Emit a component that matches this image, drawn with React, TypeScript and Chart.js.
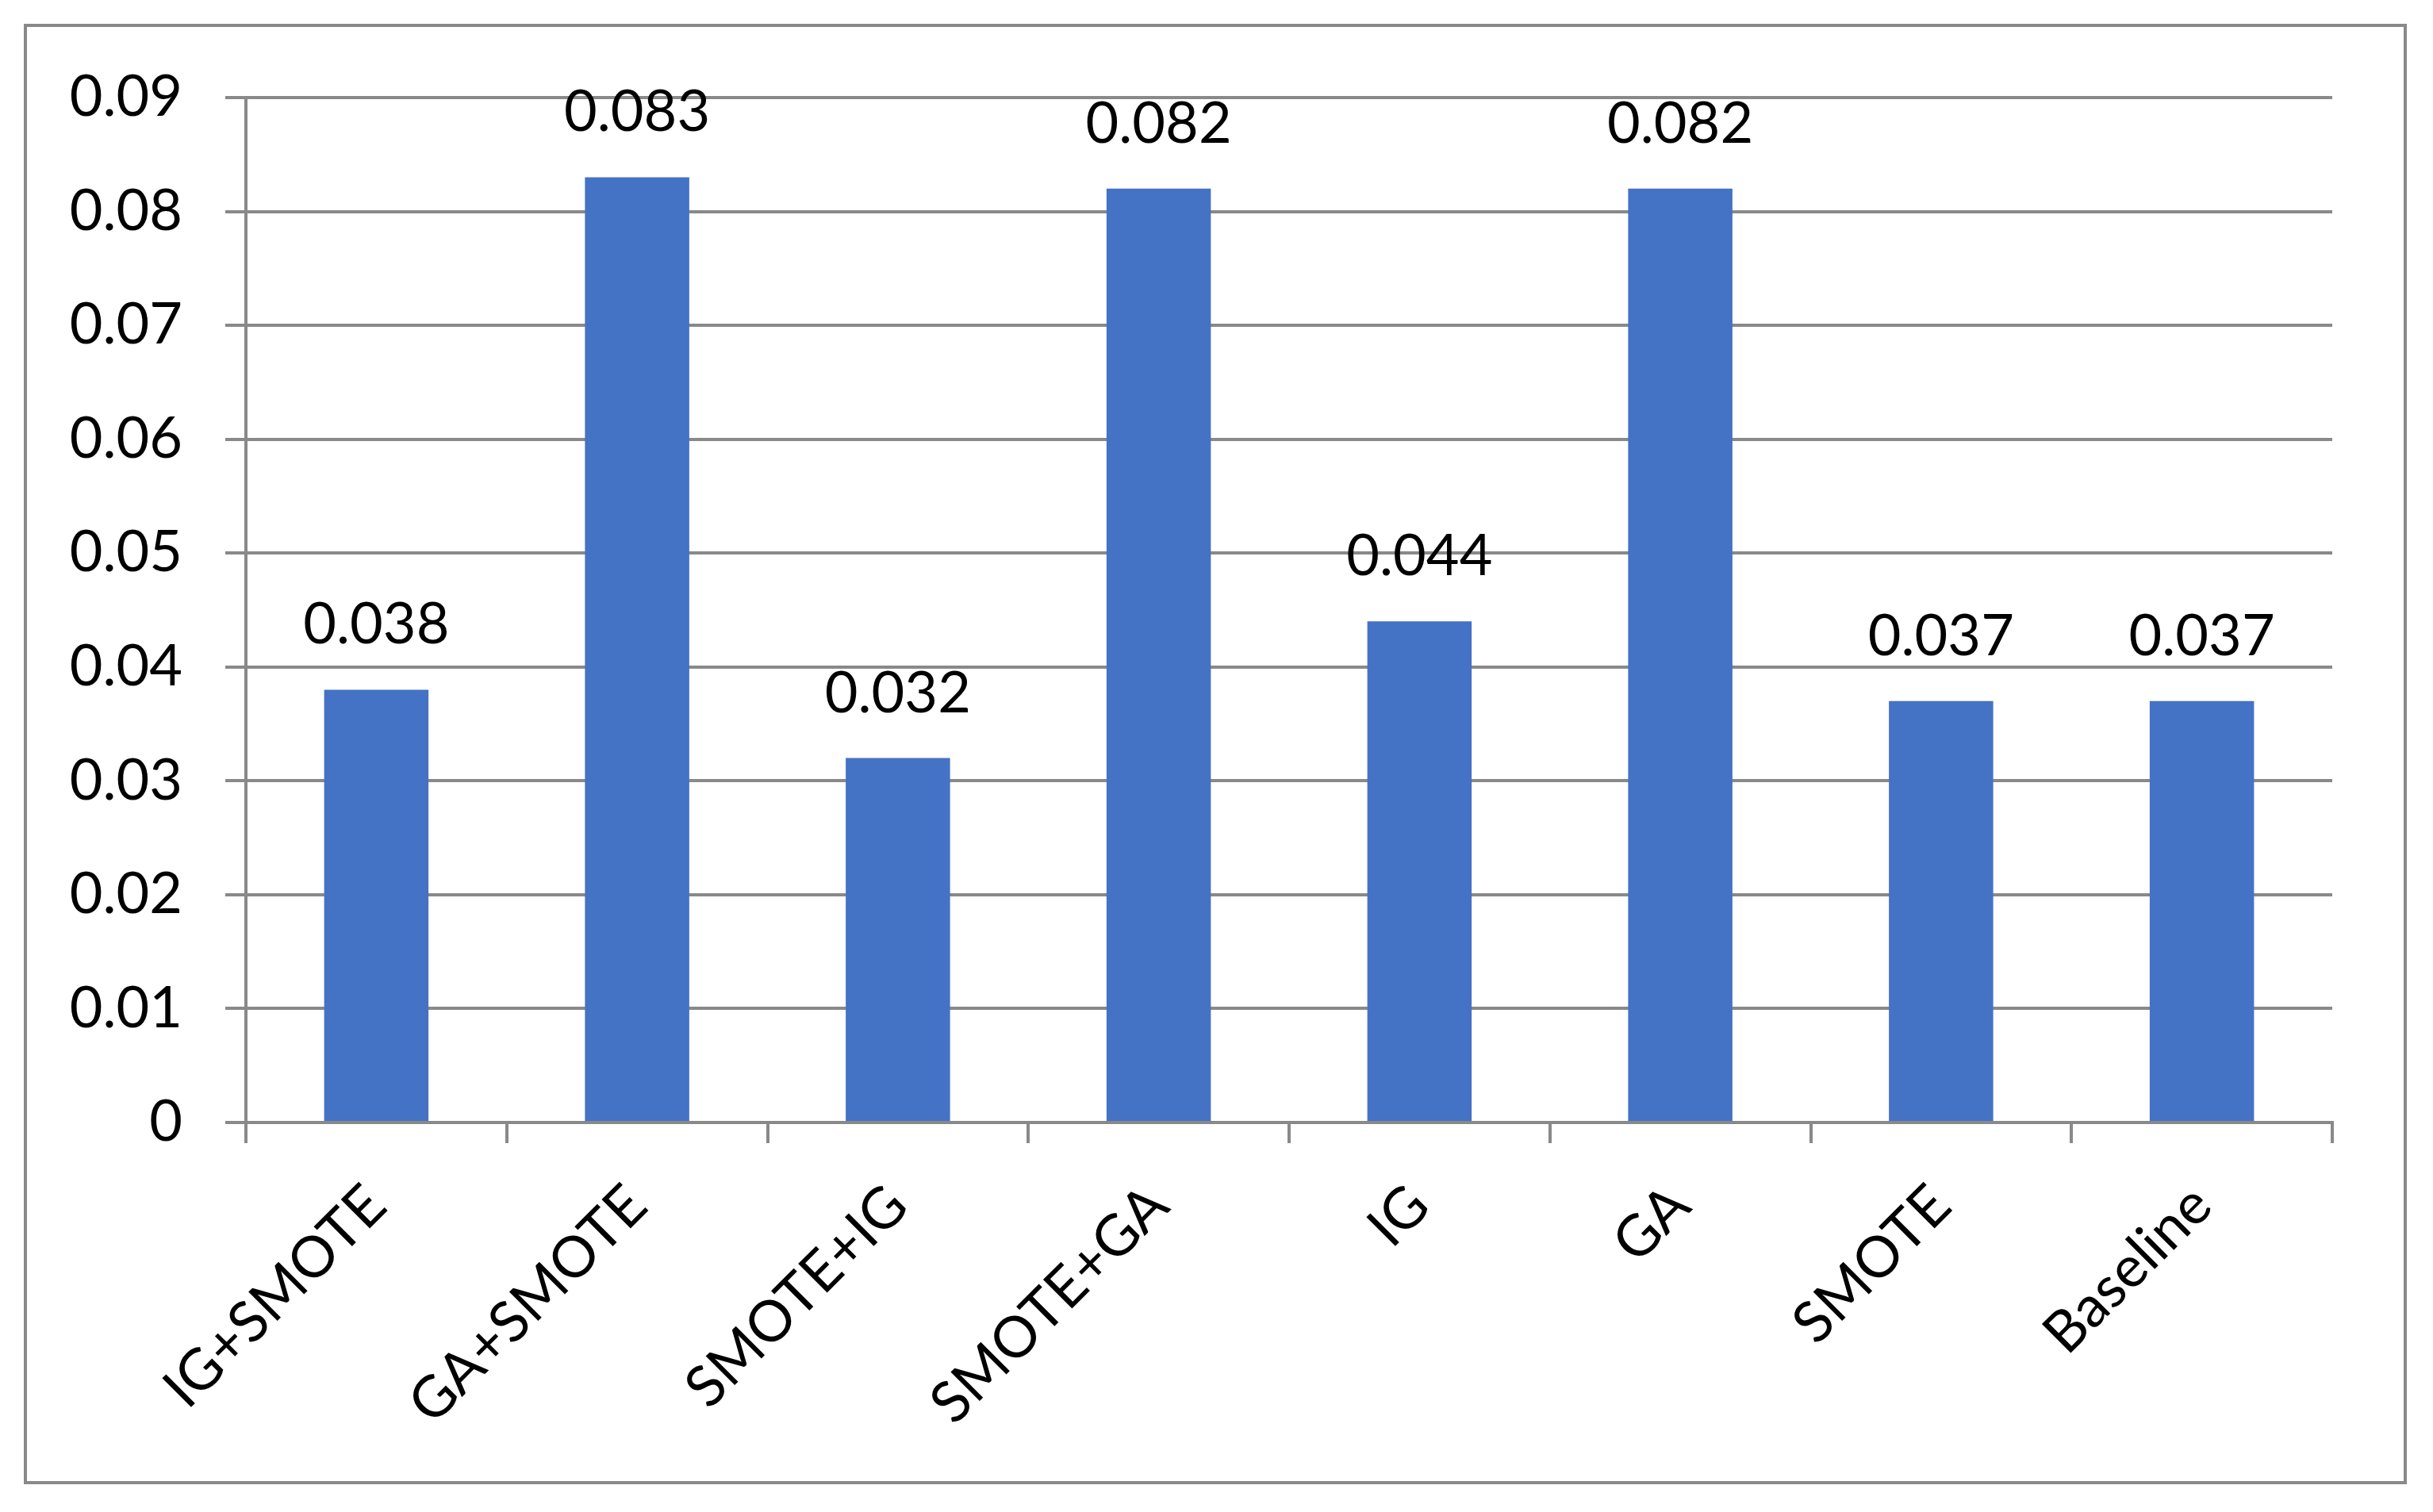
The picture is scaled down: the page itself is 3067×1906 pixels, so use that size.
import React, { useEffect, useRef } from "react";
import { Chart, registerables } from "chart.js";

Chart.register(...registerables);

const categories = ["IG+SMOTE", "GA+SMOTE", "SMOTE+IG", "SMOTE+GA", "IG", "GA", "SMOTE", "Baseline"];
const values = [0.038, 0.083, 0.032, 0.082, 0.044, 0.082, 0.037, 0.037];
const valueLabels = ["0.038", "0.083", "0.032", "0.082", "0.044", "0.082", "0.037", "0.037"];
const yMin = 0;
const yMax = 0.09;
const yStep = 0.01;

const GREY = "#898989";
const BAR = "#4472C4";
const FONT = "Lato, 'Open Sans', sans-serif";

const framePlugin = {
  id: "frame",
  beforeDraw(chart: any) {
    const ctx = chart.ctx;
    ctx.save();
    ctx.fillStyle = "#ffffff";
    ctx.fillRect(0, 0, chart.width, chart.height);
    ctx.strokeStyle = GREY;
    ctx.lineWidth = 4;
    ctx.strokeRect(32, 32, 3000, 1837);
    ctx.restore();
  },
};

const valueLabelPlugin = {
  id: "valueLabels",
  afterDatasetsDraw(chart: any) {
    const ctx = chart.ctx;
    const meta = chart.getDatasetMeta(0);
    ctx.save();
    ctx.fillStyle = "#000000";
    ctx.font = `72px ${FONT}`;
    ctx.textAlign = "center";
    ctx.textBaseline = "alphabetic";
    meta.data.forEach((bar: any, i: number) => {
      ctx.fillText(valueLabels[i], bar.x, bar.y - 58);
    });
    ctx.restore();
  },
};

export default function App() {
  const ref = useRef<HTMLCanvasElement | null>(null);
  useEffect(() => {
    document.body.style.margin = "0";
    const canvas = ref.current!;
    const chart = new Chart(canvas, {
      type: "bar",
      data: {
        labels: categories,
        datasets: [
          {
            data: values,
            backgroundColor: BAR,
            borderWidth: 0,
            barPercentage: 0.4,
            categoryPercentage: 1,
          },
        ],
      },
      options: {
        responsive: false,
        animation: false,
        devicePixelRatio: 1,
        layout: { padding: { left: 0, top: 123, right: 127, bottom: 0 } },
        plugins: {
          legend: { display: false },
          tooltip: { enabled: false },
          title: { display: false },
        },
        scales: {
          x: {
            offset: true,
            grid: {
              offset: true,
              drawOnChartArea: false,
              drawTicks: true,
              tickLength: 26,
              color: GREY,
              lineWidth: 4,
            },
            border: { display: true, color: GREY, width: 4 },
            ticks: {
              autoSkip: false,
              maxRotation: 45,
              minRotation: 45,
              padding: 36,
              color: "#000000",
              font: { family: FONT, size: 72 },
            },
            afterFit(scale: any) {
              scale.height = 491;
            },
          },
          y: {
            min: yMin,
            max: yMax,
            grid: {
              drawOnChartArea: true,
              drawTicks: true,
              tickLength: 26,
              color: GREY,
              lineWidth: 4,
            },
            border: { display: true, color: GREY, width: 4 },
            ticks: {
              stepSize: yStep,
              padding: 54,
              color: "#000000",
              font: { family: FONT, size: 72 },
              callback: (v: any) => String(Number(Number(v).toFixed(2))),
            },
            afterFit(scale: any) {
              scale.width = 310;
            },
          },
        },
      },
      plugins: [framePlugin, valueLabelPlugin],
    });
    return () => chart.destroy();
  }, []);
  return (
    <div style={{ width: 3067, height: 1906 }}>
      <canvas ref={ref} width={3067} height={1906} style={{ display: "block" }} />
    </div>
  );
}
